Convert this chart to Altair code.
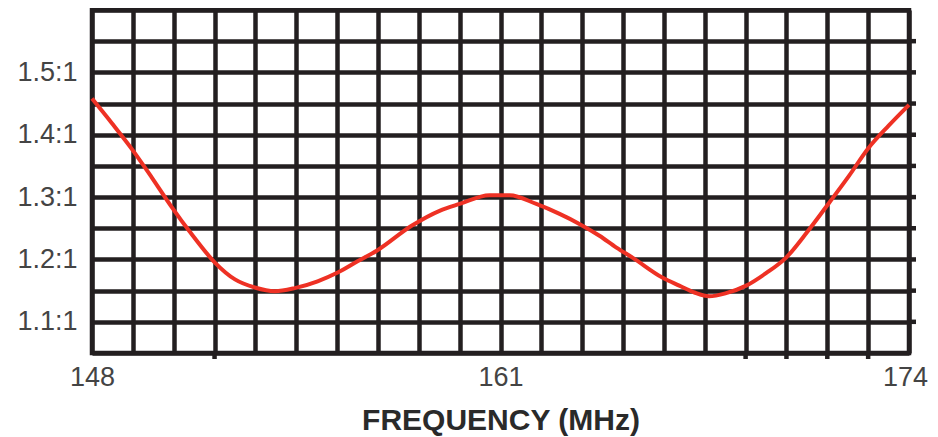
import altair as alt
import pandas as pd

# Curve readings (frequency in MHz, VSWR ratio)
freq = [148.0, 148.64, 149.27, 149.91, 150.51, 151.21, 151.91, 152.55, 153.18, 153.82,
        154.45, 155.18, 155.82, 156.45, 157.06, 158.17, 159.06, 159.70, 160.65, 161.29,
        162.14, 162.88, 163.51, 164.15, 164.69, 165.20, 166.15, 166.69, 167.17, 167.64,
        168.18, 168.82, 169.45, 170.09, 170.76, 171.46, 172.09, 172.70, 173.36, 174.0]
vswr = [1.458, 1.418, 1.377, 1.331, 1.286, 1.238, 1.195, 1.168, 1.155, 1.149,
        1.154, 1.165, 1.179, 1.197, 1.214, 1.254, 1.278, 1.289, 1.303, 1.303,
        1.289, 1.273, 1.257, 1.238, 1.219, 1.203, 1.171, 1.158, 1.147, 1.141,
        1.146, 1.158, 1.178, 1.203, 1.244, 1.291, 1.334, 1.378, 1.415, 1.448]

# Grid / tick positions
x_grid = [148.0, 149.3, 150.6, 151.9, 153.2, 154.5, 155.8, 157.1, 158.4, 159.7, 161.0,
          162.3, 163.6, 164.9, 166.2, 167.5, 168.8, 170.1, 171.4, 172.7, 174.0]
x_labels = [148, 161, 174]
x_tick_marks = [151.9, 168.8, 170.1, 171.4, 172.7]
y_grid = [1.05, 1.10, 1.15, 1.20, 1.25, 1.30, 1.35, 1.40, 1.45, 1.50, 1.55, 1.60]
y_labels = [1.1, 1.2, 1.3, 1.4, 1.5]
y_tick_marks = [1.10, 1.15, 1.20, 1.25, 1.30, 1.35, 1.40, 1.45, 1.50, 1.55]

GRID = "#231f20"
GW = 4.5
W, H = 817, 343

curve = pd.DataFrame({"freq": freq, "vswr": vswr})
bt = pd.DataFrame({"freq": x_tick_marks})
rt = pd.DataFrame({"vswr": y_tick_marks})

x_expr = "indexof(" + str(x_labels) + ", datum.value) >= 0 ? format(datum.value, 'd') : ''"
y_expr = "indexof(" + str(y_labels) + ", datum.value) >= 0 ? format(datum.value, '.1f') + ':1' : ''"

x_enc = alt.X(
    "freq:Q",
    scale=alt.Scale(domain=[148, 174], nice=False, zero=False),
    axis=alt.Axis(
        values=x_grid, grid=True, gridColor=GRID, gridWidth=GW, gridOpacity=1,
        ticks=False, domain=False, labelExpr=x_expr, labelOverlap=False,
        labelFlush=False, labelFont="Liberation Sans", labelFontSize=27,
        labelColor="#444444", labelPadding=11,
        labelOffset={"condition": {"test": "datum.value == 174", "value": -4}, "value": 0},
        title="FREQUENCY (MHz)", titleFont="Liberation Sans", titleFontSize=30,
        titleFontWeight="bold", titleColor="#2a2a2a", titlePadding=15,
    ),
)
y_enc = alt.Y(
    "vswr:Q",
    scale=alt.Scale(domain=[1.05, 1.60], nice=False, zero=False),
    axis=alt.Axis(
        values=y_grid, grid=True, gridColor=GRID, gridWidth=GW, gridOpacity=1,
        ticks=False, domain=False, labelExpr=y_expr, labelOverlap=False,
        labelFlush=False, labelFont="Liberation Sans", labelFontSize=27,
        labelColor="#444444", labelPadding=15, title=None,
    ),
)

line = alt.Chart(curve).mark_line(color="#ee3124", strokeWidth=4, interpolate="monotone").encode(
    x=x_enc, y=y_enc
)
bottom_ticks = alt.Chart(bt).mark_rule(color=GRID, strokeWidth=GW).encode(
    x=x_enc, y=alt.value(H), y2=alt.value(H + 6)
)
right_ticks = alt.Chart(rt).mark_rule(color=GRID, strokeWidth=GW).encode(
    y=y_enc, x=alt.value(W), x2=alt.value(W + 7)
)

chart = (
    alt.layer(bottom_ticks, right_ticks, line)
    .properties(
        width=W, height=H,
        autosize=alt.AutoSizeParams(type="none"),
        padding={"left": 84, "top": 2, "right": 21, "bottom": 84},
        background="white",
    )
    .configure_view(stroke=GRID, strokeWidth=GW)
)

chart.save("out.html", embed_options={"renderer": "svg", "actions": False})
